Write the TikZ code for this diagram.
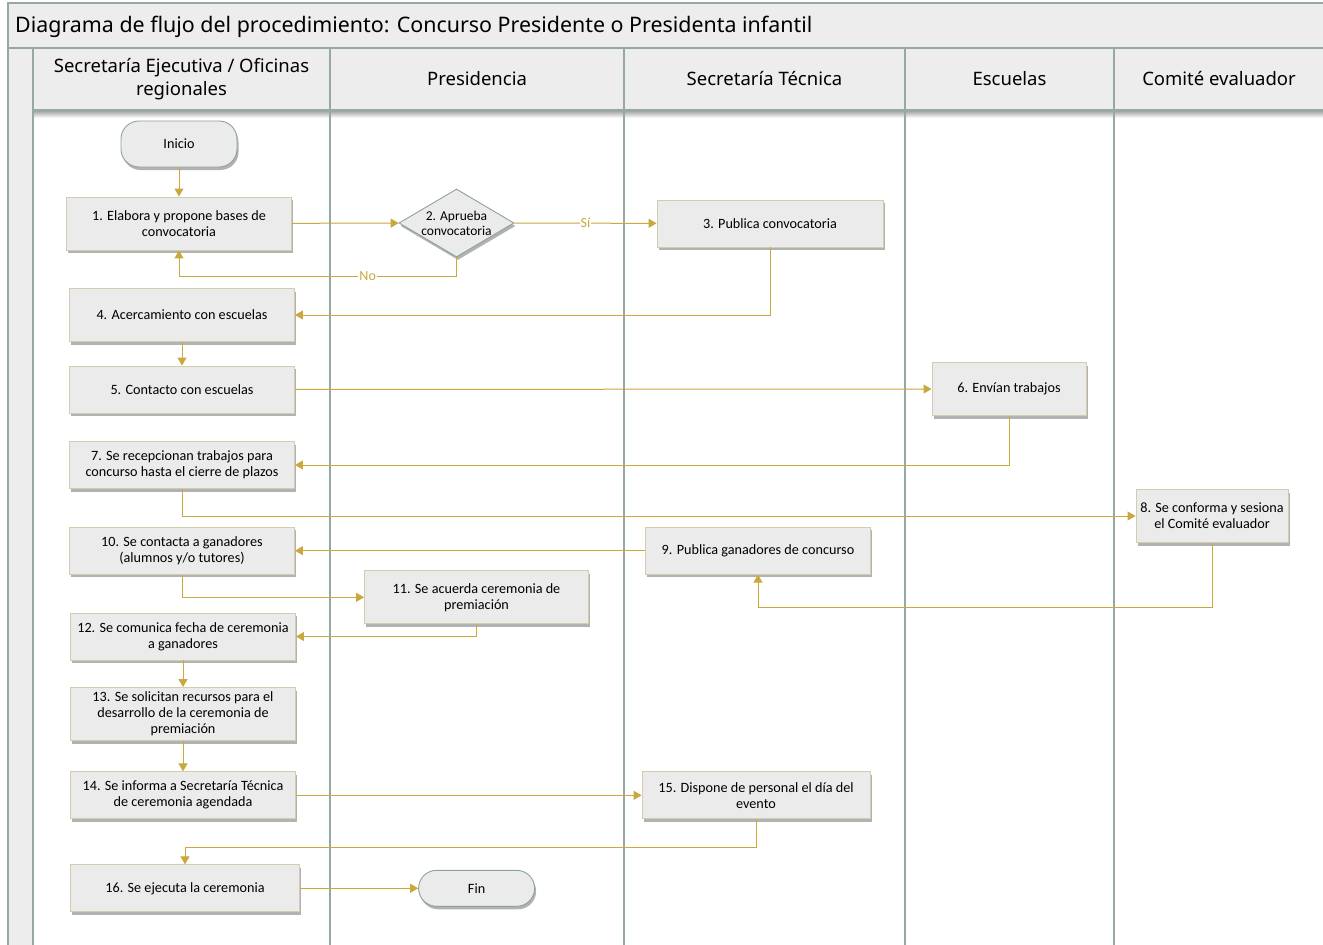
\documentclass[tikz,border=0pt]{standalone}
\usepackage{fontspec}
\setmainfont{Carlito}
\newfontfamily\headfont{Noto Sans}
\usetikzlibrary{arrows.meta,shapes.geometric,shadows}
\definecolor{oro}{RGB}{201,168,62}
\definecolor{borde}{RGB}{212,204,172}
\definecolor{caja}{RGB}{235,235,235}
\definecolor{carril}{RGB}{150,168,163}
\definecolor{banda}{RGB}{237,237,237}
\definecolor{termborde}{RGB}{140,162,154}
\begin{document}
\begin{tikzpicture}[x=1pt,y=-1pt,
  sombra/.style={drop shadow={shadow xshift=1.5pt,shadow yshift=-3pt,fill=black,opacity=.3}},
  task/.style={draw=borde,fill=caja,line width=.9pt,minimum width=225,minimum height=47,
    align=center,inner sep=2pt,font=\fontsize{14.2}{16}\selectfont,sombra},
  alta/.style={task,minimum height=53},
  term/.style={draw=termborde,fill=caja,line width=.9pt,rounded corners=18pt,minimum width=116,
    minimum height=46,font=\fontsize{14.2}{16}\selectfont,sombra},
  decision/.style={diamond,aspect=1.7,draw=termborde,fill=caja,line width=.9pt,inner sep=0pt,
    minimum width=115,minimum height=68,align=center,font=\fontsize{13.5}{15}\selectfont,sombra},
  lbl/.style={fill=white,text=oro,inner sep=1pt,font=\fontsize{14}{15}\selectfont},
  lane/.style={font=\headfont\fontsize{18.5}{23}\selectfont,align=center},
  flecha/.style={-{Triangle[length=8pt,width=9pt]},draw=oro,line width=1pt}]
  \clip (0,0) rectangle (1323,945);
  \fill[white] (0,0) rectangle (1323,945);
  \fill[banda] (8,3) rectangle (1330,48);
  \fill[banda] (8,48) rectangle (33,950);
  \fill[banda] (33,48) rectangle (1330,110);
  \shade[top color=black!40,bottom color=white] (33,110) rectangle (1330,118);
  \draw[carril,line width=1.5pt] (8,3) rectangle (1330,950);
  \draw[carril,line width=1.5pt] (8,48) -- (1330,48) (33,48) -- (33,950) (33,110) -- (1330,110);
  \foreach \x in {330,624,905,1114}
    \draw[carril,line width=1.5pt] (\x,48) -- (\x,950);
  \node[anchor=base west,inner sep=0pt,font=\headfont\fontsize{21.4}{24}\selectfont] (titulo) at (15,32)
    {Diagrama de flujo del procedimiento: Concurso Presidente o Presidenta infantil};
  \node[lane] (sej) at (181.5,79) {Secretaría Ejecutiva / Oficinas\\regionales};
  \node[lane] (pre) at (477,79) {Presidencia};
  \node[lane] (stec) at (764.5,79) {Secretaría Técnica};
  \node[lane] (esc) at (1009.5,79) {Escuelas};
  \node[lane] (com) at (1219,79) {Comité evaluador};
  \draw
    (179,144) node[term] (ini){Inicio}
    (179,223.5) node[alta] (1){1. Elabora y propone bases de\\convocatoria}
    (456.5,223) node[decision] (2){2. Aprueba\\convocatoria}
    (770,223.5) node[task,minimum width=226] (3){3. Publica convocatoria}
    (182,315) node[alta] (4){4. Acercamiento con escuelas}
    (182,389.5) node[task] (5){5. Contacto con escuelas}
    (1009,389) node[alta,minimum width=154] (6){6. Envían trabajos}
    (182,465) node[task] (7){7. Se recepcionan trabajos para\\concurso hasta el cierre de plazos}
    (1212,516) node[alta,minimum width=152] (8){8. Se conforma y sesiona\\el Comité evaluador}
    (758,550.7) node[task] (9){9. Publica ganadores de concurso}
    (182,550.7) node[task] (10){10. Se contacta a ganadores\\(alumnos y/o tutores)}
    (476.5,597.3) node[alta,minimum width=224] (11){11. Se acuerda ceremonia de\\premiación}
    (183,636.5) node[task] (12){12. Se comunica fecha de ceremonia\\a ganadores}
    (183,714) node[alta] (13){13. Se solicitan recursos para el\\desarrollo de la ceremonia de\\premiación}
    (183,795.3) node[task] (14){14. Se informa a Secretaría Técnica\\de ceremonia agendada}
    (756,795.3) node[task,minimum width=228] (15){15. Dispone de personal el día del\\evento}
    (185,888.3) node[task,minimum width=229] (16){16. Se ejecuta la ceremonia}
    (476.6,888.3) node[term,minimum height=36] (fin){Fin};
  \begin{scope}[flecha]
    \draw (ini) to (1);
    \draw (1) to (2);
    \draw (2) to node[lbl]{Sí} (3);
    \draw (2.south) -- ++(0,19) -| node[lbl,pos=0.16]{No} (1.south);
    \draw (3.south) |- (4.east);
    \draw (4) to (5);
    \draw (5) to (6);
    \draw (6.south) |- (7.east);
    \draw (7.south) |- (8.west);
    \draw (8.south) -- ++(0,65) -| (9.south);
    \draw (9) to (10);
    \draw (10.south) |- (11.west);
    \draw (11.south) |- (12.east);
    \draw (12) to (13);
    \draw (13) to (14);
    \draw (14) to (15);
    \draw (15.south) -- ++(0,28) -| (16.north);
    \draw (16) to (fin);
  \end{scope}
\end{tikzpicture}
\end{document}
